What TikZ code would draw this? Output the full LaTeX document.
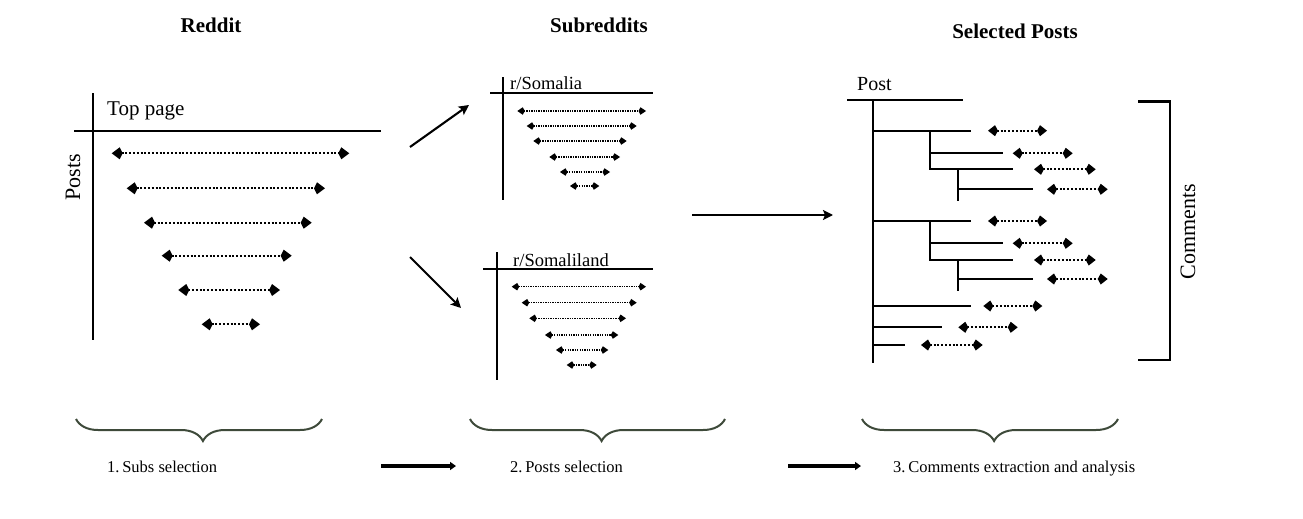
\documentclass[tikz,border=0pt]{standalone}
\usepackage{fontspec}
\setmainfont{Liberation Serif}
\usetikzlibrary{arrows.meta,decorations.pathreplacing}
\begin{document}
\begin{tikzpicture}[x=1pt,y=-1pt,
  ln/.style={line width=2.6pt,black},
  tln/.style={line width=2.1pt,black},
  bigdot/.style={line width=2.1pt,dash pattern=on 2pt off 1.8pt,
    {Kite[length=11pt,width=12pt,inset=3pt]}-{Kite[length=11pt,width=12pt,inset=3pt]}},
  smdot/.style={line width=1.3pt,dash pattern=on 1.3pt off 1.1pt,
    {Kite[length=7.5pt,width=7.5pt,inset=2pt]}-{Kite[length=7.5pt,width=7.5pt,inset=2pt]}},
  mddot/.style={line width=2pt,dash pattern=on 2pt off 1.8pt,
    {Kite[length=10pt,width=11pt,inset=3pt]}-{Kite[length=10pt,width=11pt,inset=3pt]}},
  flow/.style={line width=2.1pt,-{Stealth[length=10pt,width=10pt,inset=2pt]}},
  stepflow/.style={line width=3.2pt,-{Triangle[length=6pt,width=8pt]}},
  title/.style={font=\fontsize{21}{24}\selectfont\bfseries,inner sep=0pt,anchor=base},
  lab/.style={font=\fontsize{21}{24}\selectfont,inner sep=0pt,anchor=base west},
  sublab/.style={font=\fontsize{18.5}{22}\selectfont,inner sep=0pt,anchor=base west},
  steplab/.style={font=\fontsize{16.5}{20}\selectfont,inner sep=0pt,anchor=base west},
  brc/.style={line width=2pt,color=brcol,decorate,decoration={brace,mirror,amplitude=22pt,aspect=0.516}}
]
\definecolor{brcol}{HTML}{3E4A3A}
\useasboundingbox (0,0) rectangle (1303,519);

% titles
\node[title] (t1) at (211,33) {Reddit};
\node[title] (t2) at (599,33) {Subreddits};
\node[title] (t3) at (1015,39) {Selected Posts};

% Reddit panel
\draw[ln] (93,93) -- (93,340);
\draw[ln] (74,131) -- (381,131);
\node[lab] (top) at (107,115) {Top page};
\node[font=\fontsize{22}{24}\selectfont,rotate=90,inner sep=0pt] (posts) at (73,177) {Posts};
\draw[bigdot] (111.7,153.3) -- (349.3,153.3);
\draw[bigdot] (126.7,188.3) -- (325,188.3);
\draw[bigdot] (144,222.7) -- (311.7,222.7);
\draw[bigdot] (161.7,255.7) -- (291.7,255.7);
\draw[bigdot] (178.3,290) -- (280,290);
\draw[bigdot] (201.7,324.3) -- (260,324.3);

% flow arrows to subreddits
\coordinate (a1s) at (410,147);
\coordinate (a1e) at (469,105);
\coordinate (a2s) at (410,257);
\coordinate (a2e) at (461,308);
\draw[flow] (a1s) -- (a1e);
\draw[flow] (a2s) -- (a2e);

% r/Somalia
\draw[tln] (502.7,77) -- (502.7,200);
\draw[tln] (490,93.3) -- (652.7,93.3);
\node[sublab] (som) at (510,89.3) {r/Somalia};
\draw[smdot] (517.3,111) -- (646,111);
\draw[smdot] (526.7,126) -- (636.7,126);
\draw[smdot] (533.3,141) -- (626.7,141);
\draw[smdot] (549.3,157) -- (620,157);
\draw[smdot] (560,172) -- (610,172);
\draw[smdot] (570,186) -- (599.3,186);

% r/Somaliland
\draw[tln] (496.7,252) -- (496.7,380);
\draw[tln] (483,269) -- (652.7,269);
\node[sublab] (somld) at (513,266) {r/Somaliland};
\draw[smdot] (511.7,286.7) -- (646,286.7);
\draw[smdot] (521.7,302.7) -- (636.7,302.7);
\draw[smdot] (529.3,318.3) -- (626,318.3);
\draw[smdot] (545,335) -- (618.3,335);
\draw[smdot] (556,350) -- (608.3,350);
\draw[smdot] (566.7,365) -- (596.7,365);

% middle arrow
\coordinate (m1) at (692,215);
\coordinate (m2) at (833,215);
\draw[flow] (m1) -- (m2);

% Post tree
\node[lab,font=\fontsize{20}{24}\selectfont] (post) at (857,90) {Post};
\draw[tln] (847,100) -- (963,100);
\draw[tln] (873.3,100) -- (873.3,363);
% branch 1
\draw[tln] (873.3,130.7) -- (970.7,130.7);
\draw[tln] (930,130.7) -- (930,169.3);
\draw[tln] (930,153.3) -- (1002.7,153.3);
\draw[tln] (929,169.3) -- (1012.7,169.3);
\draw[tln] (957.7,169.3) -- (957.7,200.7);
\draw[tln] (957.7,189.3) -- (1033.3,189.3);
\draw[mddot] (988,130.7) -- (1047,130.7);
\draw[mddot] (1012.7,153.3) -- (1072.7,153.3);
\draw[mddot] (1034,169.3) -- (1095.7,169.3);
\draw[mddot] (1047,189.3) -- (1107.7,189.3);
% branch 2
\draw[tln] (873.3,221) -- (970.7,221);
\draw[tln] (930,221) -- (930,259.3);
\draw[tln] (930,243.3) -- (1002.7,243.3);
\draw[tln] (929,260) -- (1012.7,260);
\draw[tln] (957.7,260) -- (957.7,290.7);
\draw[tln] (957.7,279) -- (1033.3,279);
\draw[mddot] (988,221) -- (1047,221);
\draw[mddot] (1012.7,243.3) -- (1072.7,243.3);
\draw[mddot] (1034,260) -- (1095.7,260);
\draw[mddot] (1047,279) -- (1107.7,279);
% branches 3-5
\draw[tln] (873.3,306) -- (970.7,306);
\draw[mddot] (983.3,306) -- (1042.3,306);
\draw[tln] (873.3,327.3) -- (941.7,327.3);
\draw[mddot] (958.3,327.3) -- (1017.7,327.3);
\draw[tln] (873.3,345) -- (905,345);
\draw[mddot] (921,345) -- (982.7,345);

% Comments bracket
\draw[ln] (1138,101.5) -- (1170,101.5) -- (1170,360) -- (1138,360);
\node[font=\fontsize{22}{24}\selectfont,rotate=90,inner sep=0pt] (comm) at (1188,232) {Comments};

% braces
\draw[brc] (76,419) -- (322,419);
\draw[brc] (470,419) -- (725,419);
\draw[brc] (862,419) -- (1118,419);

% steps
\node[steplab] (s1) at (107,472) {1.\,Subs selection};
\node[steplab] (s2) at (510,472) {2.\,Posts selection};
\node[steplab] (s3) at (893,472) {3.\,Comments extraction and analysis};
\coordinate (b1s) at (381,466);
\coordinate (b1e) at (456,466);
\coordinate (b2s) at (788,466);
\coordinate (b2e) at (861,466);
\draw[stepflow] (b1s) -- (b1e);
\draw[stepflow] (b2s) -- (b2e);
\end{tikzpicture}
\end{document}
